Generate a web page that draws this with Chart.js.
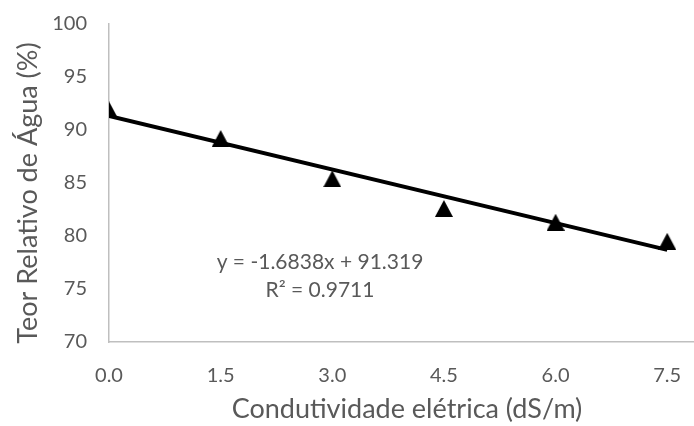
<!DOCTYPE html>
<html>
<head>
<meta charset="utf-8">
<script src="https://cdn.jsdelivr.net/npm/chart.js@4/dist/chart.umd.min.js"></script>
<style>
  html, body { margin: 0; padding: 0; background: #ffffff; }
  #wrap { width: 694px; height: 426px; }
</style>
</head>
<body>
<div id="wrap"><canvas id="c" width="694" height="426"></canvas></div>
<script>
// Electrical conductivity levels (dS/m)
const conductivity = [0.0, 1.5, 3.0, 4.5, 6.0, 7.5];
// Relative water content (%) measured at each level
const waterContent = [91.9, 89.2, 85.4, 82.6, 81.3, 79.5];
// Linear fit reported on the chart
const fitSlope = -1.6838;
const fitIntercept = 91.319;
const fitR2 = 0.9711;
// Axis ticks and ranges
const xTickValues = [0.0, 1.5, 3.0, 4.5, 6.0, 7.5];
const yTickValues = [70, 75, 80, 85, 90, 95, 100];
const xRange = [0, 7.86];
const yRange = [70, 100];

const xTitle = 'Condutividade elétrica (dS/m)';
const yTitle = 'Teor Relativo de Água (%)';
const eqLine1 = 'y = ' + fitSlope.toFixed(4) + 'x + ' + fitIntercept.toFixed(3);
const eqLine2 = 'R\u00B2 = ' + fitR2.toFixed(4);

const FONT = 'Lato';
const GREY_TEXT = '#595959';
const AXIS_LINE = '#bfbfbf';

// filled triangle marker
function makeTriangle(w, h) {
  const cv = document.createElement('canvas');
  cv.width = w; cv.height = h;
  const g = cv.getContext('2d');
  g.fillStyle = '#000000';
  g.beginPath();
  g.moveTo(w / 2, 0);
  g.lineTo(w, h);
  g.lineTo(0, h);
  g.closePath();
  g.fill();
  return cv;
}
const triangle = makeTriangle(18, 17);

const points = conductivity.map((x, i) => ({ x: x, y: waterContent[i] }));
const xFirst = conductivity[0];
const xLast = conductivity[conductivity.length - 1];
const trend = [
  { x: xFirst, y: fitSlope * xFirst + fitIntercept },
  { x: xLast, y: fitSlope * xLast + fitIntercept }
];

// axis titles and the fit equation
const labelsPlugin = {
  id: 'labels',
  afterDraw(chart) {
    const ctx = chart.ctx;
    ctx.save();
    ctx.fillStyle = GREY_TEXT;
    ctx.textAlign = 'center';
    ctx.textBaseline = 'middle';

    ctx.font = '27px ' + FONT;
    ctx.fillText(xTitle, 407, 409);

    ctx.save();
    ctx.translate(28, 193);
    ctx.rotate(-Math.PI / 2);
    ctx.fillText(yTitle, 0, 0);
    ctx.restore();

    ctx.font = '21px ' + FONT;
    ctx.fillText(eqLine1, 320, 262);
    ctx.fillText(eqLine2, 320, 290);
    ctx.restore();
  }
};

function fixTicks(values, range) {
  return function (scale) {
    scale.ticks = values.map(v => ({ value: v }));
    scale.min = range[0];
    scale.max = range[1];
  };
}

new Chart(document.getElementById('c'), {
  type: 'scatter',
  data: {
    datasets: [
      {
        type: 'line',
        data: trend,
        borderColor: '#000000',
        borderWidth: 4,
        pointRadius: 0,
        fill: false,
        order: 1
      },
      {
        data: points,
        pointStyle: triangle,
        pointRadius: 9,
        pointHoverRadius: 9,
        order: 2
      }
    ]
  },
  options: {
    responsive: false,
    animation: false,
    events: [],
    layout: { autoPadding: false, padding: { top: 24, right: 0, left: 0, bottom: 0 } },
    plugins: {
      legend: { display: false },
      tooltip: { enabled: false }
    },
    scales: {
      x: {
        type: 'linear',
        bounds: 'data',
        min: xRange[0],
        max: xRange[1],
        afterBuildTicks: fixTicks(xTickValues, xRange),
        afterFit(scale) {
          scale.height = 84;
          scale.paddingLeft = 0;
          scale.paddingRight = 0;
        },
        grid: { display: false, drawTicks: false },
        border: { display: true, color: AXIS_LINE, width: 1.5 },
        ticks: {
          font: { family: FONT, size: 20 },
          color: GREY_TEXT,
          padding: 22,
          maxRotation: 0,
          autoSkip: false,
          callback: v => Number(v).toFixed(1)
        }
      },
      y: {
        bounds: 'data',
        min: yRange[0],
        max: yRange[1],
        afterBuildTicks: fixTicks(yTickValues, yRange),
        afterFit(scale) {
          scale.width = 109;
          scale.paddingTop = 0;
          scale.paddingBottom = 0;
        },
        grid: { display: false, drawTicks: false },
        border: { display: true, color: AXIS_LINE, width: 1.5 },
        ticks: {
          font: { family: FONT, size: 20 },
          color: GREY_TEXT,
          padding: 22,
          autoSkip: false,
          callback: v => String(v)
        }
      }
    }
  },
  plugins: [labelsPlugin]
});
</script>
</body>
</html>
